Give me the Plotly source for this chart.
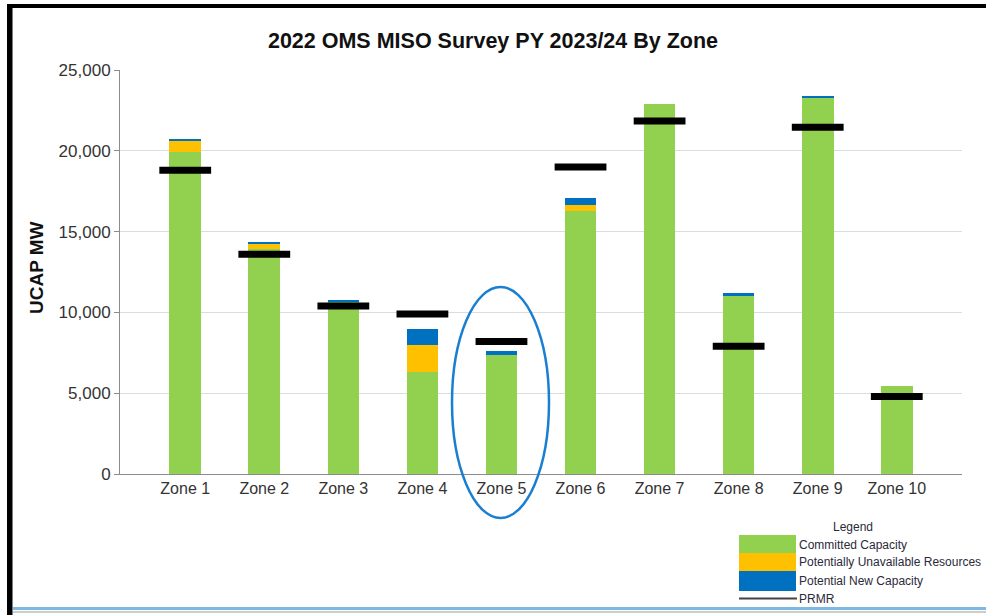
import plotly.graph_objects as go

# ---- data ----
zones = ["Zone 1", "Zone 2", "Zone 3", "Zone 4", "Zone 5",
         "Zone 6", "Zone 7", "Zone 8", "Zone 9", "Zone 10"]
committed = [19950, 13900, 10650, 6300, 7350, 16300, 22880, 11050, 23280, 5450]
unavailable = [650, 380, 0, 1700, 0, 350, 0, 0, 0, 0]
new_capacity = [130, 100, 120, 950, 270, 420, 0, 120, 60, 0]
prmr = [18800, 13600, 10400, 9900, 8200, 19000, 21850, 7900, 21450, 4800]
y_ticks = [0, 5000, 10000, 15000, 20000, 25000]

GREEN = "#92D050"
YELLOW = "#FFC000"
BLUE = "#0070C0"

W, H = 986, 615
L, R, T, B = 120, 24, 70, 141
PW, PH = W - L - R, H - T - B


def px(x):
    return (x - L) / PW


def py(y):
    return (H - B - y) / PH


fig = go.Figure()
fig.add_trace(go.Bar(x=zones, y=committed, name="Committed Capacity",
                     marker=dict(color=GREEN, line=dict(width=0)), showlegend=False))
fig.add_trace(go.Bar(x=zones, y=unavailable, name="Potentially Unavailable Resources",
                     marker=dict(color=YELLOW, line=dict(width=0)), showlegend=False))
fig.add_trace(go.Bar(x=zones, y=new_capacity, name="Potential New Capacity",
                     marker=dict(color=BLUE, line=dict(width=0)), showlegend=False))
fig.add_trace(go.Scatter(x=zones, y=prmr, mode="markers", name="PRMR",
                         marker=dict(symbol="line-ew", size=37,
                                     line=dict(width=7, color="black"), color="black"),
                         showlegend=False))

shapes = []
# frame
shapes.append(dict(type="rect", xref="paper", yref="paper",
                   x0=px(7), x1=px(12.5), y0=py(615), y1=py(4),
                   fillcolor="black", line=dict(width=0), layer="above"))
shapes.append(dict(type="rect", xref="paper", yref="paper",
                   x0=px(7), x1=px(986), y0=py(8), y1=py(4),
                   fillcolor="black", line=dict(width=0), layer="above"))
shapes.append(dict(type="rect", xref="paper", yref="paper",
                   x0=px(13), x1=px(986), y0=py(610), y1=py(607),
                   fillcolor="#7DB7E4", line=dict(width=0), layer="above"))
shapes.append(dict(type="line", xref="paper", yref="paper",
                   x0=px(13), x1=px(986), y0=py(612), y1=py(612),
                   line=dict(color="#9a9a9a", width=1), layer="above"))
# ellipse around zone 5
shapes.append(dict(type="circle", xref="paper", yref="paper",
                   x0=px(452), x1=px(549), y0=py(518), y1=py(287),
                   line=dict(color="#1A7FD0", width=2.5), layer="above"))
# legend swatches
shapes.append(dict(type="rect", xref="paper", yref="paper",
                   x0=px(739), x1=px(796), y0=py(553), y1=py(535),
                   fillcolor=GREEN, line=dict(width=0)))
shapes.append(dict(type="rect", xref="paper", yref="paper",
                   x0=px(739), x1=px(796), y0=py(571), y1=py(553),
                   fillcolor=YELLOW, line=dict(width=0)))
shapes.append(dict(type="rect", xref="paper", yref="paper",
                   x0=px(739), x1=px(796), y0=py(591), y1=py(571),
                   fillcolor=BLUE, line=dict(width=0)))
shapes.append(dict(type="line", xref="paper", yref="paper",
                   x0=px(739), x1=px(797), y0=py(598.5), y1=py(598.5),
                   line=dict(color="#444444", width=2)))

legend_font = dict(family="Liberation Sans", size=12, color="#2a2a3a")
annotations = [
    dict(text="Legend", xref="paper", yref="paper", x=px(853), y=py(527),
         xanchor="center", yanchor="middle", showarrow=False, font=legend_font),
]
for label, yy in [("Committed Capacity", 545), ("Potentially Unavailable Resources", 562),
                  ("Potential New Capacity", 581), ("PRMR", 599)]:
    annotations.append(dict(text=label, xref="paper", yref="paper", x=px(797), y=py(yy),
                            xanchor="left", yanchor="middle", showarrow=False,
                            font=legend_font))
annotations.append(dict(text="<b>UCAP MW</b>", xref="paper", yref="paper",
                        x=px(36), y=py(268), textangle=-90, xanchor="center",
                        yanchor="middle", showarrow=False,
                        font=dict(family="Liberation Sans", size=19, color="#111111")))

fig.update_layout(
    width=W, height=H,
    margin=dict(l=L, r=R, t=T, b=B),
    paper_bgcolor="white", plot_bgcolor="white",
    barmode="stack", bargap=0.6,
    title=dict(text="<b>2022 OMS MISO Survey PY 2023/24 By Zone</b>",
               x=493 / W, xanchor="center", y=1 - 40 / H, yanchor="middle",
               font=dict(family="Liberation Sans", size=21.5, color="#111111")),
    xaxis=dict(showline=True, linecolor="#8c8c8c", linewidth=1, ticks="",
               showgrid=False,
               tickfont=dict(family="Liberation Sans", size=16, color="#333333")),
    yaxis=dict(range=[0, 25000], tickvals=y_ticks, tickformat=",",
               showline=True, linecolor="#8c8c8c", linewidth=1,
               ticks="outside", ticklen=5, tickcolor="#8c8c8c",
               showgrid=True, gridcolor="#dcdcdc", gridwidth=1,
               zeroline=False,
               tickfont=dict(family="Liberation Sans", size=17, color="#333333")),
    shapes=shapes,
    annotations=annotations,
)

fig.write_html("out.html",
               config={"displayModeBar": False},
               post_script="document.body.style.margin='0';document.body.style.overflow='hidden';")
